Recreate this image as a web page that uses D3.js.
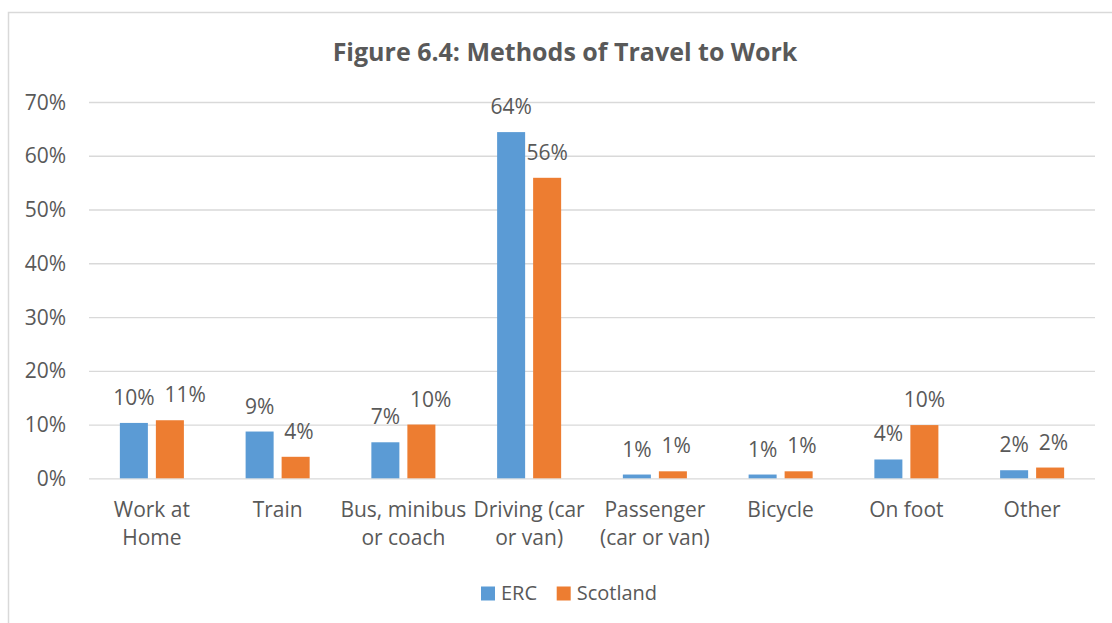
<!DOCTYPE html>
<html lang="en">
  <head>
    <meta charset="UTF-8" />
    <title>Methods of Travel to Work</title>
    <style>
      body {
        margin: 0;
        background: #fff;
      }
      svg {
        display: block;
        font-family: "Open Sans", sans-serif;
      }
      .grid line {
        stroke: #d9d9d9;
        stroke-width: 1.3;
      }
      text {
        fill: #595959;
      }
    </style>
    <script src="https://cdn.jsdelivr.net/npm/d3@7"></script>
  </head>
  <body>
    <div class="container"></div>
    <script>
      // data (percent)
      const categories = [
        "Work at\nHome",
        "Train",
        "Bus, minibus\nor coach",
        "Driving (car\nor van)",
        "Passenger\n(car or van)",
        "Bicycle",
        "On foot",
        "Other",
      ];
      const seriesNames = ["ERC", "Scotland"];
      const ercValues = [10.3, 8.7, 6.7, 64.4, 0.7, 0.7, 3.5, 1.5];
      const scotlandValues = [10.8, 4.0, 10.0, 55.9, 1.3, 1.3, 9.9, 2.0];
      const yTicks = [0, 10, 20, 30, 40, 50, 60, 70];
      const colors = ["#5b9bd5", "#ed7d31"];

      const width = 1112,
        height = 623;
      const fontSize = "21px";

      const data = categories.map((c, i) => ({
        cat: c,
        vals: [ercValues[i], scotlandValues[i]],
      }));

      const svg = d3
        .select(".container")
        .append("svg")
        .attr("width", width)
        .attr("height", height);

      // chart border
      svg
        .append("rect")
        .attr("x", 8.5)
        .attr("y", 12.5)
        .attr("width", 1112)
        .attr("height", 640)
        .attr("fill", "none")
        .attr("stroke", "#d9d9d9")
        .attr("stroke-width", 1.5);

      svg
        .append("text")
        .attr("x", 565)
        .attr("y", 61)
        .attr("text-anchor", "middle")
        .style("font-size", "25px")
        .style("font-weight", "bold")
        .text("Figure 6.4: Methods of Travel to Work");

      const x = d3.scaleBand().domain(categories).range([89, 1095]);
      const xs = d3
        .scaleBand()
        .domain(seriesNames)
        .range([0, x.bandwidth()])
        .paddingInner(0.222)
        .paddingOuter(0.857);
      const y = d3.scaleLinear().domain([0, 70]).range([478.3, 102]);

      // gridlines
      svg
        .append("g")
        .attr("class", "grid")
        .attr("transform", "translate(89,0)")
        .call(
          d3
            .axisLeft(y)
            .tickValues(yTicks)
            .tickSize(-(1095 - 89))
            .tickFormat("")
        )
        .call((g) => g.select(".domain").remove());

      // y tick labels
      svg
        .append("g")
        .selectAll("text")
        .data(yTicks)
        .enter()
        .append("text")
        .attr("x", 66)
        .attr("y", (d) => y(d) + 7.5)
        .attr("text-anchor", "end")
        .style("font-size", fontSize)
        .text((d) => d + "%");

      const groups = svg
        .selectAll(".cat")
        .data(data)
        .enter()
        .append("g")
        .attr("class", "cat")
        .attr("transform", (d) => "translate(" + x(d.cat) + ",0)");

      groups
        .selectAll("rect")
        .data((d) => d.vals.map((v, i) => ({ s: seriesNames[i], v: v, i: i })))
        .enter()
        .append("rect")
        .attr("x", (d) => xs(d.s))
        .attr("y", (d) => y(d.v))
        .attr("width", xs.bandwidth())
        .attr("height", (d) => y(0) - y(d.v))
        .attr("fill", (d) => colors[d.i]);

      // value labels
      groups
        .selectAll(".val")
        .data((d) => d.vals.map((v, i) => ({ s: seriesNames[i], v: v })))
        .enter()
        .append("text")
        .attr("class", "val")
        .attr("x", (d) => xs(d.s) + xs.bandwidth() / 2)
        .attr("y", (d) => y(d.v) - 18)
        .attr("text-anchor", "middle")
        .style("font-size", fontSize)
        .text((d) => Math.round(d.v) + "%");

      // push a label right if it runs into its neighbour (like excel does)
      groups.each(function () {
        const labels = d3.select(this).selectAll(".val").nodes();
        const a = labels[0].getBBox(),
          b = labels[1].getBBox();
        const overlapV = !(a.y + a.height < b.y || b.y + b.height < a.y);
        const gap = b.x - (a.x + a.width);
        if (overlapV && gap < 8) {
          const cx = +labels[1].getAttribute("x");
          labels[1].setAttribute("x", cx + (10 - gap));
        }
      });

      // category labels
      groups
        .append("text")
        .attr("text-anchor", "middle")
        .style("font-size", fontSize)
        .selectAll("tspan")
        .data((d) => d.cat.split("\n"))
        .enter()
        .append("tspan")
        .attr("x", x.bandwidth() / 2)
        .attr("y", (d, i) => 517 + i * 28)
        .text((d) => d);

      // legend
      const legendX = [481, 556.7];
      const legend = svg
        .selectAll(".legend")
        .data(seriesNames)
        .enter()
        .append("g")
        .attr("class", "legend")
        .attr("transform", (d, i) => "translate(" + legendX[i] + ",586.5)");
      legend
        .append("rect")
        .attr("width", 14)
        .attr("height", 14)
        .attr("fill", (d, i) => colors[i]);
      legend
        .append("text")
        .attr("x", 20)
        .attr("y", 13.5)
        .style("font-size", "20px")
        .text((d) => d);
    </script>
  </body>
</html>
